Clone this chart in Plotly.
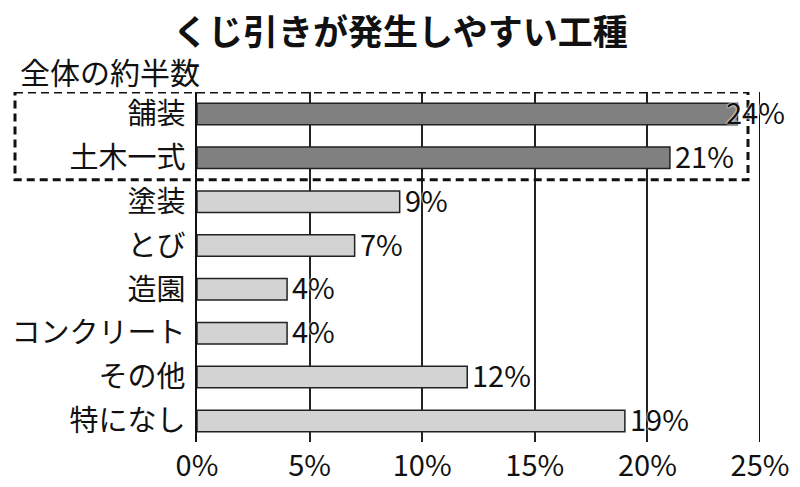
import plotly.graph_objects as go

categories = ["舗装", "土木一式", "塗装", "とび", "造園", "コンクリート", "その他", "特になし"]
values = [24, 21, 9, 7, 4, 4, 12, 19]
highlight = [True, True, False, False, False, False, False, False]
tick_vals = [0, 5, 10, 15, 20, 25]
tick_text = ["0%", "5%", "10%", "15%", "20%", "25%"]
title_text = "くじ引きが発生しやすい工種"
subtitle_text = "全体の約半数"

FONT = "Noto Sans CJK JP"
W, H = 800, 487
L, R, T, B = 197, 40, 92, 45

colors = ["#808080" if h else "#d3d3d3" for h in highlight]

fig = go.Figure()
fig.add_trace(go.Bar(
    x=values, y=categories, orientation="h", width=0.49,
    marker=dict(color=colors, line=dict(color="#222222", width=1.5)),
    hoverinfo="skip",
))

# value labels
for c, v in zip(categories, values):
    fig.add_annotation(
        x=v, y=c, xref="x", yref="y", text=f"{v}%", showarrow=False,
        xanchor="left", yanchor="middle", xshift=(-13 if v == max(values) else 3),
        yshift=3,
        font=dict(family=FONT, size=29, color="#111111",
                  shadow="0px 0px 2px white, 0px 0px 2px white"),
    )

fig.update_layout(
    width=W, height=H,
    margin=dict(l=L, r=R, t=T, b=B, autoexpand=False),
    paper_bgcolor="white", plot_bgcolor="white",
    showlegend=False,
    font=dict(family=FONT, color="#111111"),
    xaxis=dict(
        range=[0, 25], tickvals=tick_vals, ticktext=tick_text,
        showgrid=True, gridcolor="#222222", gridwidth=1.5,
        zeroline=False, showline=False, ticks="", automargin=False,
        tickfont=dict(family=FONT, size=29, color="#111111"),
        ticklabelstandoff=4, fixedrange=True,
    ),
    yaxis=dict(
        categoryorder="array", categoryarray=categories,
        range=[len(categories) - 0.52, -0.5],
        showgrid=False, zeroline=False, automargin=False,
        showline=True, linecolor="#111111", linewidth=1.5,
        ticks="", tickfont=dict(family=FONT, size=29, color="#111111"),
        ticklabelstandoff=4, fixedrange=True,
    ),
)

# gridline at the right end of the axis (hidden by plotly at the range edge)
fig.add_shape(
    type="line", xref="x", yref="paper",
    x0=tick_vals[-1], x1=tick_vals[-1], y0=0, y1=1,
    line=dict(color="#111111", width=2), layer="below",
)

fig.add_annotation(
    text=title_text, xref="paper", yref="paper",
    x=(W / 2 - L) / (W - L - R), y=1 + (T - 29) / (H - T - B),
    xanchor="center", yanchor="middle", showarrow=False,
    font=dict(family=FONT, size=35, color="#111111", weight="bold"),
)
fig.add_annotation(
    text=subtitle_text, xref="paper", yref="paper",
    x=(18 - L) / (W - L - R), y=1 + (T - 71) / (H - T - B),
    xanchor="left", yanchor="middle", showarrow=False,
    font=dict(family=FONT, size=30, color="#111111"),
)

# dashed highlight box around the top two categories
n_hl = sum(highlight)
fig.add_shape(
    type="rect", xref="paper", yref="y",
    x0=(15 - L) / (W - L - R), x1=(748 - L) / (W - L - R),
    y0=-0.5, y1=n_hl - 0.5,
    line=dict(color="#111111", width=3, dash="8px,5px"),
    fillcolor="rgba(0,0,0,0)", layer="above",
)

fig.write_html(
    "out.html",
    config={"displayModeBar": False},
    post_script="document.body.style.margin='0';document.body.style.padding='0';",
)
